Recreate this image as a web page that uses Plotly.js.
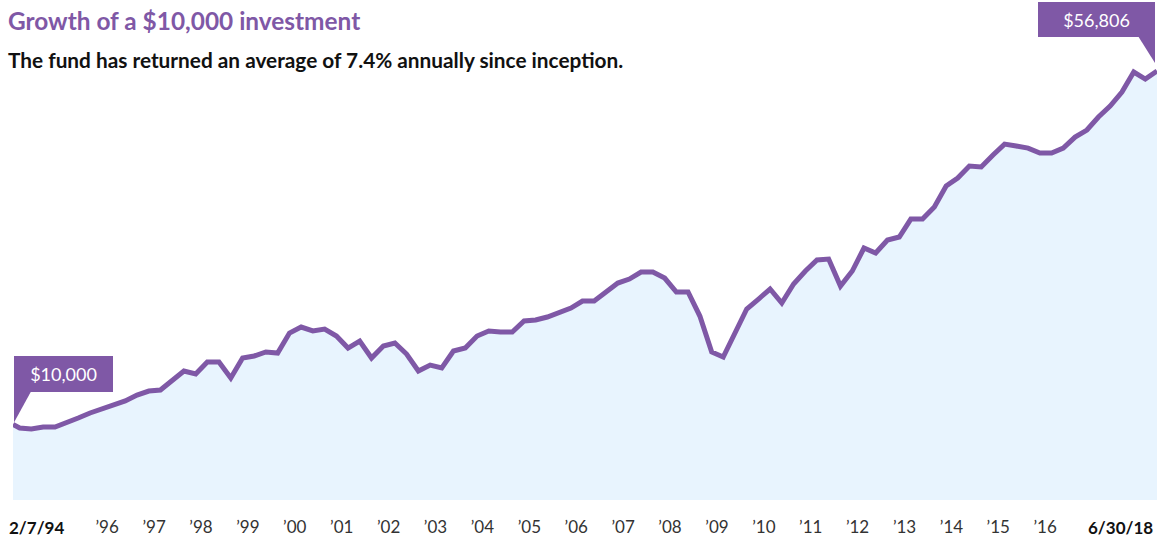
<!DOCTYPE html>
<html>
<head>
<meta charset="utf-8">
<script src="https://cdn.plot.ly/plotly-3.0.1.min.js"></script>
<style>
  html, body { margin: 0; padding: 0; background: #fff; }
  #chart { width: 1168px; height: 537px; }
</style>
</head>
<body>
<div id="chart"></div>
<script>
// Quarter-end dates (first point is inception date)
const dates = [
  '1994-02-07','1994-03-31','1994-06-30','1994-09-30','1994-12-31',
  '1995-03-31','1995-06-30','1995-09-30','1995-12-31',
  '1996-03-31','1996-06-30','1996-09-30','1996-12-31',
  '1997-03-31','1997-06-30','1997-09-30','1997-12-31',
  '1998-03-31','1998-06-30','1998-09-30','1998-12-31',
  '1999-03-31','1999-06-30','1999-09-30','1999-12-31',
  '2000-03-31','2000-06-30','2000-09-30','2000-12-31',
  '2001-03-31','2001-06-30','2001-09-30','2001-12-31',
  '2002-03-31','2002-06-30','2002-09-30','2002-12-31',
  '2003-03-31','2003-06-30','2003-09-30','2003-12-31',
  '2004-03-31','2004-06-30','2004-09-30','2004-12-31',
  '2005-03-31','2005-06-30','2005-09-30','2005-12-31',
  '2006-03-31','2006-06-30','2006-09-30','2006-12-31',
  '2007-03-31','2007-06-30','2007-09-30','2007-12-31',
  '2008-03-31','2008-06-30','2008-09-30','2008-12-31',
  '2009-03-31','2009-06-30','2009-09-30','2009-12-31',
  '2010-03-31','2010-06-30','2010-09-30','2010-12-31',
  '2011-03-31','2011-06-30','2011-09-30','2011-12-31',
  '2012-03-31','2012-06-30','2012-09-30','2012-12-31',
  '2013-03-31','2013-06-30','2013-09-30','2013-12-31',
  '2014-03-31','2014-06-30','2014-09-30','2014-12-31',
  '2015-03-31','2015-06-30','2015-09-30','2015-12-31',
  '2016-03-31','2016-06-30','2016-09-30','2016-12-31',
  '2017-03-31','2017-06-30','2017-09-30','2017-12-31',
  '2018-03-31','2018-06-30'
];

// Value of a $10,000 investment
const values = [
  10000, 9530, 9400, 9665, 9665,
  10195, 10860, 11520, 12050,
  12580, 13110, 13900, 14430,
  14560, 15890, 17080, 16680,
  18270, 18270, 16150, 18800,
  19070, 19600, 19460, 22110,
  22900, 22380, 22640, 21710,
  20120, 21050, 18800, 20390,
  20790, 19330, 17080, 17870,
  17480, 19730, 20120, 21710,
  22380, 22240, 22240, 23700,
  23830, 24230, 24890, 25420,
  26350, 26350, 27540, 28730,
  29260, 30190, 30190, 29390,
  27540, 27540, 24360, 19600,
  18930, 22110, 25290, 26610,
  27940, 26080, 28600, 30320,
  31780, 31910, 28330, 30320,
  33360, 32700, 34420, 34820,
  37200, 37200, 38790, 41570,
  42630, 44220, 44090, 45680,
  47130, 46870, 46600, 45940,
  45940, 46600, 48060, 48990,
  50710, 52170, 54020, 56670,
  55740, 56806
];

// Year tick positions and labels
const tickDates = ['1996-02-10','1997-02-10','1998-02-10','1999-02-10','2000-02-10','2001-02-10',
  '2002-02-10','2003-02-10','2004-02-10','2005-02-10','2006-02-10','2007-02-10','2008-02-10',
  '2009-02-10','2010-02-10','2011-02-10','2012-02-10','2013-02-10','2014-02-10','2015-02-10','2016-02-10'];
const tickLabels = ['\u201996','\u201997','\u201998','\u201999','\u201900','\u201901','\u201902','\u201903',
  '\u201904','\u201905','\u201906','\u201907','\u201908','\u201909','\u201910','\u201911','\u201912',
  '\u201913','\u201914','\u201915','\u201916'];

const startLabel = '2/7/94';
const endLabel = '6/30/18';
const startValueLabel = '$10,000';
const endValueLabel = '$56,806';
const titleText = 'Growth of a $10,000 investment';
const subtitleText = 'The fund has returned an average of 7.4% annually since inception.';

const PURPLE = '#7F58A6';
const FILL = '#E8F4FE';
const FONT = 'Lato, "Noto Sans", sans-serif';

const n = dates.length;
const Y_MAX = 58263;

const trace = {
  type: 'scatter',
  mode: 'lines',
  x: dates,
  y: values,
  fill: 'tozeroy',
  fillcolor: FILL,
  line: { color: PURPLE, width: 5, shape: 'linear' },
  hoverinfo: 'skip',
  cliponaxis: false
};

const layout = {
  width: 1168,
  height: 537,
  margin: { l: 13, r: 11, t: 60, b: 37, pad: 0 },
  paper_bgcolor: '#ffffff',
  plot_bgcolor: '#ffffff',
  showlegend: false,
  font: { family: FONT, color: '#222' },
  title: {
    text: titleText,
    font: { family: FONT, size: 24.4, color: PURPLE, weight: 'bold' },
    x: 8 / 1168, xref: 'container', xanchor: 'left',
    y: 1 - 21 / 537, yref: 'container', yanchor: 'middle'
  },
  xaxis: {
    type: 'date',
    range: [dates[0], dates[n - 1]],
    showgrid: false, zeroline: false, showline: false,
    tickmode: 'array', tickvals: tickDates, ticktext: tickLabels,
    ticks: 'outside', ticklen: 12, tickcolor: 'rgba(0,0,0,0)',
    tickfont: { family: FONT, size: 17, color: '#333' },
    fixedrange: true
  },
  yaxis: {
    range: [0, Y_MAX],
    visible: false,
    showgrid: false, zeroline: false,
    fixedrange: true
  },
  annotations: [
    {
      text: subtitleText, xref: 'paper', yref: 'paper',
      x: 0, y: 1, xanchor: 'left', yanchor: 'middle', xshift: -7, yshift: 1,
      showarrow: false, font: { family: FONT, size: 20.8, color: '#111', weight: 'bold' }
    },
    {
      text: startLabel, xref: 'paper', yref: 'paper', x: 0, y: 0,
      xanchor: 'left', yanchor: 'middle', xshift: -6, yshift: -27,
      showarrow: false, font: { family: FONT, size: 17, color: '#111', weight: 'bold' }
    },
    {
      text: endLabel, xref: 'paper', yref: 'paper', x: 1, y: 0,
      xanchor: 'right', yanchor: 'middle', xshift: -2, yshift: -27,
      showarrow: false, font: { family: FONT, size: 17, color: '#111', weight: 'bold' }
    },
    {
      text: startValueLabel, xref: 'x', yref: 'y', x: dates[0], y: values[0],
      xanchor: 'left', yanchor: 'bottom', xshift: 1, yshift: 32,
      width: 99, height: 36, borderpad: 0, borderwidth: 0,
      bgcolor: PURPLE, showarrow: false,
      font: { family: FONT, size: 18, color: '#ffffff' }
    },
    {
      text: endValueLabel, xref: 'x', yref: 'y', x: dates[n - 1], y: values[n - 1],
      xanchor: 'right', yanchor: 'bottom', xshift: -2, yshift: 34,
      width: 117, height: 35, borderpad: 0, borderwidth: 0,
      bgcolor: PURPLE, showarrow: false,
      font: { family: FONT, size: 18, color: '#ffffff' }
    }
  ],
  shapes: [
    {
      type: 'path', xref: 'paper', yref: 'paper',
      xsizemode: 'pixel', ysizemode: 'pixel',
      xanchor: 0, yanchor: values[0] / Y_MAX,
      path: 'M1,33 L18,33 L1,2 Z',
      fillcolor: PURPLE, line: { width: 0 }, layer: 'above'
    },
    {
      type: 'path', xref: 'paper', yref: 'paper',
      xsizemode: 'pixel', ysizemode: 'pixel',
      xanchor: 1, yanchor: values[n - 1] / Y_MAX,
      path: 'M-19,35 L-2,35 L-2,8 Z',
      fillcolor: PURPLE, line: { width: 0 }, layer: 'above'
    }
  ]
};

Plotly.newPlot('chart', [trace], layout, { displayModeBar: false, staticPlot: true });
</script>
</body>
</html>
